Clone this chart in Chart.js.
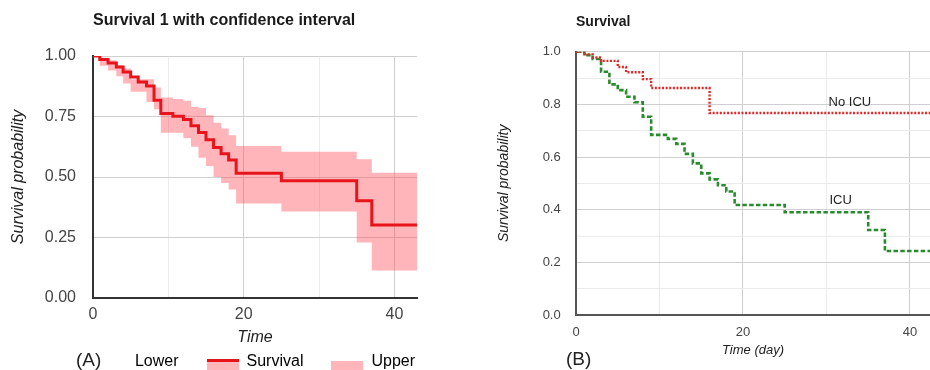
<!DOCTYPE html>
<html>
<head>
<meta charset="utf-8">
<script src="https://cdn.jsdelivr.net/npm/chart.js@4.4.1/dist/chart.umd.min.js"></script>
<style>
html, body { margin: 0; padding: 0; background: #fff; }
#wrap { position: relative; width: 930px; height: 370px; overflow: hidden; background: #fff; }
#wrap canvas { position: absolute; top: 0; }
.tag { position: absolute; font-family: 'Liberation Sans', Arial, sans-serif; font-size: 19px; line-height: 20px; color: #222; }
</style>
</head>
<body>
<div id="wrap">
  <canvas id="chartA" width="510" height="370" style="left:0"></canvas>
  <canvas id="chartB" width="460" height="370" style="left:470px"></canvas>
  <div class="tag" style="left:76px;top:350px">(A)</div>
  <div class="tag" style="left:566px;top:349px">(B)</div>
</div>
<script>
// ---------- Data: panel (A) ----------
const titleA = 'Survival 1 with confidence interval';
const timeA     = [0, 0.9, 2.0, 3.1, 4.0, 5.0, 6.0, 7.1, 8.1, 9.0, 10.6, 12, 13, 14, 15, 16, 17, 18, 19, 25, 35, 37, 43];
const survivalA = [1, 0.986, 0.971, 0.955, 0.934, 0.913, 0.893, 0.876, 0.817, 0.762, 0.751, 0.738, 0.712, 0.684, 0.654, 0.622, 0.596, 0.570, 0.515, 0.484, 0.402, 0.302, 0.302];
const upperA    = [1, 0.993, 0.982, 0.962, 0.948, 0.904, 0.904, 0.904, 0.870, 0.828, 0.822, 0.815, 0.790, 0.785, 0.755, 0.724, 0.700, 0.673, 0.628, 0.604, 0.573, 0.518, 0.518];
const lowerA    = [1, 0.960, 0.940, 0.916, 0.886, 0.852, 0.852, 0.810, 0.780, 0.683, 0.683, 0.660, 0.625, 0.580, 0.545, 0.500, 0.475, 0.448, 0.391, 0.357, 0.229, 0.114, 0.114];
const legendNamesA = ['Lower', 'Survival', 'Upper'];
const xTickLabelsA = [0, 20, 40];
const yTickValuesA = [0, 0.25, 0.5, 0.75, 1];
const yTickLabelsA = ['0.00', '0.25', '0.50', '0.75', '1.00'];

// ---------- Data: panel (B) ----------
const titleB = 'Survival';
const timeNoICU = [0, 1, 2, 3, 5, 6, 8, 9, 16, 43];
const survNoICU = [1, 0.990, 0.978, 0.965, 0.942, 0.922, 0.896, 0.862, 0.767, 0.767];
const timeICU = [0, 1, 2, 3, 4, 5, 6, 7, 8, 9, 11, 12, 13, 14, 15, 16, 17, 18, 19, 25, 35, 37, 43];
const survICU = [1, 0.987, 0.972, 0.924, 0.876, 0.854, 0.829, 0.808, 0.753, 0.684, 0.669, 0.650, 0.612, 0.576, 0.538, 0.515, 0.493, 0.469, 0.418, 0.390, 0.323, 0.243, 0.243];
const seriesNamesB = ['No ICU', 'ICU'];
const xTickLabelsB = [0, 20, 40];
const yTickValuesB = [0, 0.2, 0.4, 0.6, 0.8, 1.0];
const yTickLabelsB = ['0.0', '0.2', '0.4', '0.6', '0.8', '1.0'];
// label anchors (data units) for the in-plot series names
const seriesLabelTimeB = [32.8, 31.7];
const seriesLabelValueB = [0.806, 0.437];

// ---------- Styling ----------
const FONT = "'Liberation Sans', Arial, sans-serif";
Chart.defaults.font.family = FONT;
Chart.defaults.color = '#444';
const RED = '#e8141c';
const BAND = 'rgba(255, 70, 80, 0.40)';
const GRID_MAJOR = '#cfcfcf';
const GRID_MINOR = '#ebebeb';

function pts(ts, vs) { return ts.map((t, i) => ({ x: t, y: vs[i] })); }
function near(a, b) { return Math.abs(a - b) < 1e-6; }
function labelFor(values, labels, v) {
  const i = values.findIndex(u => near(u, v));
  return i >= 0 ? String(labels[i]) : '';
}
function keepMultiples(step) {
  return scale => { scale.ticks = scale.ticks.filter(t => near(t.value / step, Math.round(t.value / step))); };
}

// legend symbols
function sym(draw) {
  const c = document.createElement('canvas');
  c.width = 32; c.height = 24;
  const g = c.getContext('2d');
  draw(g);
  return c;
}
const symbolsA = [
  sym(() => {}),
  sym(g => { g.fillStyle = BAND; g.fillRect(0, 12, 32, 12); g.fillStyle = RED; g.fillRect(0, 9, 32, 3); }),
  sym(g => { g.fillStyle = BAND; g.fillRect(0, 11, 32, 13); })
];

// ---------- Chart A ----------
new Chart(document.getElementById('chartA'), {
  type: 'line',
  data: {
    datasets: [
      { label: legendNamesA[0], data: pts(timeA, lowerA), borderColor: 'rgba(0,0,0,0)', borderWidth: 0, pointRadius: 0, stepped: 'before', fill: false },
      { label: legendNamesA[1], data: pts(timeA, survivalA), borderColor: RED, borderWidth: 3, pointRadius: 0, stepped: 'before', fill: false },
      { label: legendNamesA[2], data: pts(timeA, upperA), borderColor: 'rgba(0,0,0,0)', borderWidth: 0, pointRadius: 0, stepped: 'before', fill: '-2', backgroundColor: BAND }
    ]
  },
  options: {
    responsive: false, animation: false, devicePixelRatio: 1,
    layout: { padding: { left: 0, right: 0, top: 0, bottom: -10 } },
    plugins: {
      title: { display: true, text: titleA, align: 'start', fullSize: false, color: '#1a1a1a',
               font: { size: 16, weight: 'bold' }, padding: { top: 11.4, bottom: 25.4 } },
      legend: {
        display: true, position: 'bottom', align: 'center',
        labels: {
          usePointStyle: true, pointStyleWidth: 32, boxHeight: 16, padding: 28,
          color: '#222', font: { size: 16 },
          generateLabels: () => legendNamesA.map((name, i) => ({
            text: name, pointStyle: symbolsA[i], fillStyle: 'rgba(0,0,0,0)',
            strokeStyle: 'rgba(0,0,0,0)', lineWidth: 0, hidden: false, datasetIndex: i
          }))
        }
      },
      tooltip: { enabled: false }
    },
    scales: {
      x: {
        type: 'linear', min: 0, max: 43,
        afterBuildTicks: keepMultiples(10),
        ticks: { stepSize: 10, includeBounds: false, autoSkip: false, maxRotation: 0, padding: 7.4, color: '#444', font: { size: 16 },
                 callback: v => xTickLabelsA.some(u => near(u, v)) ? String(v) : '' },
        grid: { drawTicks: false, color: c => (c.tick && xTickLabelsA.some(u => near(u, c.tick.value))) ? GRID_MAJOR : GRID_MINOR },
        border: { display: true, color: '#333', width: 2 },
        title: { display: true, text: 'Time', color: '#222', font: { size: 16, style: 'italic' }, padding: { top: 0, bottom: -21.6 } },
        afterFit: s => { s.height = 28; }
      },
      y: {
        type: 'linear', min: 0, max: 1,
        ticks: { stepSize: 0.25, autoSkip: false, padding: 17, color: '#444', font: { size: 16 },
                 callback: v => labelFor(yTickValuesA, yTickLabelsA, v) },
        grid: { drawTicks: false, color: GRID_MAJOR },
        border: { display: true, color: '#333', width: 2 },
        title: { display: true, text: 'Survival probability', color: '#222', font: { size: 16, style: 'italic' }, padding: { top: 9.4, bottom: 0 } },
        afterFit: s => { s.width = 93; }
      },
      yRight: {
        type: 'linear', position: 'right', display: true,
        ticks: { display: false }, grid: { display: false }, border: { display: false },
        afterFit: s => { s.width = 93; }
      }
    }
  }
});

// ---------- Chart B ----------
const seriesLabelPlugin = {
  id: 'seriesLabels',
  afterDatasetsDraw(chart) {
    const { ctx, scales: { x, y } } = chart;
    ctx.save();
    ctx.font = '13px ' + FONT;
    ctx.fillStyle = '#222';
    ctx.textAlign = 'center';
    ctx.textBaseline = 'middle';
    seriesNamesB.forEach((name, i) => {
      ctx.fillText(name, x.getPixelForValue(seriesLabelTimeB[i]), y.getPixelForValue(seriesLabelValueB[i]));
    });
    ctx.restore();
  }
};

new Chart(document.getElementById('chartB'), {
  type: 'line',
  data: {
    datasets: [
      { label: seriesNamesB[0], data: pts(timeNoICU, survNoICU), borderColor: '#dd2b2b', borderWidth: 2.4,
        borderDash: [2, 1.6], pointRadius: 0, stepped: 'before', fill: false },
      { label: seriesNamesB[1], data: pts(timeICU, survICU), borderColor: '#2a8a2e', borderWidth: 2.6,
        borderDash: [4.5, 2.3], pointRadius: 0, stepped: 'before', fill: false }
    ]
  },
  plugins: [seriesLabelPlugin],
  options: {
    responsive: false, animation: false, devicePixelRatio: 1,
    layout: { padding: 0 },
    plugins: {
      title: { display: true, text: titleB, align: 'start', fullSize: false, color: '#1a1a1a',
               font: { size: 14, weight: 'bold' }, padding: { top: 13.6, bottom: 21.3 } },
      legend: { display: false },
      tooltip: { enabled: false }
    },
    scales: {
      x: {
        type: 'linear', min: 0, max: 42.4,
        afterBuildTicks: keepMultiples(10),
        ticks: { stepSize: 10, includeBounds: false, autoSkip: false, maxRotation: 0, padding: 9.2, color: '#444', font: { size: 13 },
                 callback: v => xTickLabelsB.some(u => near(u, v)) ? String(v) : '' },
        grid: { drawTicks: false, color: c => (c.tick && xTickLabelsB.some(u => near(u, c.tick.value))) ? GRID_MAJOR : GRID_MINOR },
        border: { display: true, color: '#555', width: 2 },
        title: { display: true, text: 'Time (day)', color: '#222', font: { size: 13, style: 'italic' }, padding: { top: 0, bottom: 12.2 } },
        afterFit: s => { s.height = 55; }
      },
      y: {
        type: 'linear', min: 0, max: 1,
        ticks: { stepSize: 0.1, autoSkip: false, padding: 15.3, color: '#444', font: { size: 13 },
                 callback: v => labelFor(yTickValuesB, yTickLabelsB, v) },
        grid: { drawTicks: false, color: c => (c.tick && yTickValuesB.some(u => near(u, c.tick.value))) ? GRID_MAJOR : GRID_MINOR },
        border: { display: true, color: '#555', width: 2 },
        title: { display: true, text: 'Survival probability', color: '#222', font: { size: 14, style: 'italic' }, padding: { top: 25.6, bottom: 0 } },
        afterFit: s => { s.width = 106; }
      }
    }
  }
});
</script>
</body>
</html>
